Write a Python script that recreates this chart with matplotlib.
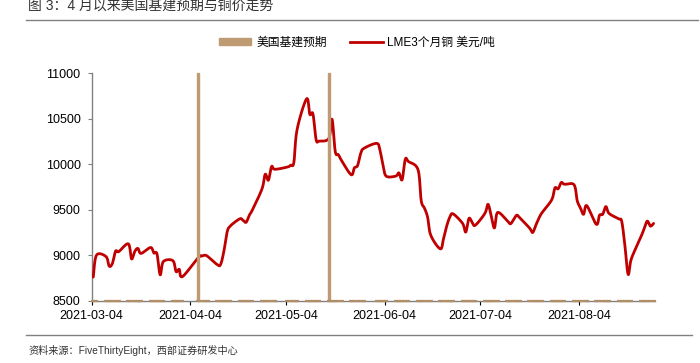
import matplotlib
matplotlib.use('Agg')
import matplotlib.pyplot as plt
import matplotlib.dates as mdates
from matplotlib.patches import Patch
from matplotlib.lines import Line2D
import numpy as np
import pandas as pd

plt.rcParams['font.family'] = ['Liberation Sans', 'Noto Sans CJK SC', 'DejaVu Sans']

# ---------------- data ----------------
copper_dates = [
    '2021-03-04', '2021-03-05', '2021-03-08', '2021-03-09', '2021-03-10', '2021-03-11', '2021-03-12',
    '2021-03-15', '2021-03-16', '2021-03-17', '2021-03-18', '2021-03-19', '2021-03-22', '2021-03-23',
    '2021-03-24', '2021-03-25', '2021-03-26', '2021-03-29', '2021-03-30', '2021-03-31', '2021-04-01',
    '2021-04-06', '2021-04-07', '2021-04-08', '2021-04-09', '2021-04-12', '2021-04-13', '2021-04-14',
    '2021-04-15', '2021-04-16', '2021-04-19', '2021-04-20', '2021-04-21', '2021-04-22', '2021-04-23',
    '2021-04-26', '2021-04-27', '2021-04-28', '2021-04-29', '2021-04-30', '2021-05-04', '2021-05-05',
    '2021-05-06', '2021-05-07', '2021-05-10', '2021-05-11', '2021-05-12', '2021-05-13', '2021-05-14',
    '2021-05-17', '2021-05-18', '2021-05-19', '2021-05-20', '2021-05-21', '2021-05-24', '2021-05-25',
    '2021-05-26', '2021-05-27', '2021-05-28', '2021-06-01', '2021-06-02', '2021-06-03', '2021-06-04',
    '2021-06-07', '2021-06-08', '2021-06-09', '2021-06-10', '2021-06-11', '2021-06-14', '2021-06-15',
    '2021-06-16', '2021-06-17', '2021-06-18', '2021-06-21', '2021-06-22', '2021-06-23', '2021-06-24',
    '2021-06-25', '2021-06-28', '2021-06-29', '2021-06-30', '2021-07-01', '2021-07-02', '2021-07-05',
    '2021-07-06', '2021-07-07', '2021-07-08', '2021-07-09', '2021-07-12', '2021-07-13', '2021-07-14',
    '2021-07-15', '2021-07-16', '2021-07-19', '2021-07-20', '2021-07-21', '2021-07-22', '2021-07-23',
    '2021-07-26', '2021-07-27', '2021-07-28', '2021-07-29', '2021-07-30', '2021-08-02', '2021-08-03',
    '2021-08-04', '2021-08-05', '2021-08-06', '2021-08-09', '2021-08-10', '2021-08-11', '2021-08-12',
    '2021-08-13', '2021-08-16', '2021-08-17', '2021-08-18', '2021-08-19', '2021-08-20', '2021-08-23',
    '2021-08-24', '2021-08-25', '2021-08-26', '2021-08-27',
]
copper_values = [
    8760, 9000, 8985, 8880, 8910, 9045, 9040,
    9125, 8960, 9040, 9075, 9020, 9085, 9025,
    9015, 8785, 8930, 8940, 8820, 8845, 8765,
    8975, 8990, 9000, 8985, 8895, 8900, 9040,
    9250, 9320, 9400, 9385, 9362, 9440, 9500,
    9730, 9890, 9825, 9975, 9945, 9970, 9990,
    10020, 10380, 10720, 10550, 10553, 10270, 10255,
    10285, 10495, 10140, 10105, 10040, 9885, 9960,
    9985, 10120, 10175, 10230, 10160, 9990, 9870,
    9870, 9905, 9830, 10055, 10030, 9940, 9600,
    9520, 9420, 9220, 9070, 9180, 9320, 9420,
    9455, 9350, 9255, 9405, 9360, 9330, 9460,
    9560, 9430, 9300, 9470, 9380, 9345, 9390,
    9440, 9410, 9300, 9250, 9330, 9410, 9470,
    9610, 9740, 9730, 9800, 9780, 9775, 9600,
    9520, 9450, 9545, 9340, 9440, 9450, 9535,
    9460, 9400, 9370, 9100, 8790, 8960, 9200,
    9290, 9375, 9320, 9350,
]
infra_event_dates = ['2021-04-06', '2021-05-17']
infra_values = [1 if d in infra_event_dates else 0 for d in copper_dates]

x_ticks = ['2021-03-04', '2021-04-04', '2021-05-04', '2021-06-04', '2021-07-04', '2021-08-04']
y_ticks = [8500, 9000, 9500, 10000, 10500, 11000]

label_infra = '美国基建预期'
label_copper = 'LME3个月铜 美元/吨'
title = '图 3：4 月以来美国基建预期与铜价走势'
source = '资料来源：FiveThirtyEight，西部证券研发中心'

# ---------------- helpers ----------------
def smooth_line(xn, yn, n=12):
    """Catmull-Rom rendering of a line (like a spreadsheet 'smoothed line')."""
    xn = np.asarray(xn, float)
    yn = np.asarray(yn, float)
    P = np.column_stack([xn, yn])
    P = np.vstack([P[0], P, P[-1]])
    out = []
    t = np.linspace(0, 1, n, endpoint=False)[:, None]
    for i in range(1, len(P) - 2):
        p0, p1, p2, p3 = P[i - 1], P[i], P[i + 1], P[i + 2]
        c = 0.5 * (2 * p1 + (-p0 + p2) * t + (2 * p0 - 5 * p1 + 4 * p2 - p3) * t ** 2
                   + (-p0 + 3 * p1 - 3 * p2 + p3) * t ** 3)
        out.append(c)
    out.append(P[-2][None, :])
    out = np.vstack(out)
    return out[:, 0], out[:, 1]

# ---------------- plot ----------------
RED = '#C00000'
TAN = '#BF9B74'
GREY = '#808080'

fig = plt.figure(figsize=(7, 3.63), dpi=100)
ax = fig.add_axes([0.131, 0.1716, 0.805, 0.6264])

x = pd.to_datetime(copper_dates) + pd.Timedelta(hours=12)
xnum = mdates.date2num(x)
sx, sy = smooth_line(xnum, copper_values)
ax.plot(sx, sy, color=RED, lw=2.0, solid_joinstyle='round', solid_capstyle='round', zorder=3)

ax.set_ylim(8500, 11000)
ax.set_yticks(y_ticks)
ax.xaxis_date()
ax.set_xlim(pd.Timestamp('2021-03-04'), pd.Timestamp('2021-08-28'))
ax.set_xticks(mdates.date2num(pd.to_datetime(x_ticks)))
ax.xaxis.set_major_formatter(mdates.DateFormatter('%Y-%m-%d'))

for s in ['top', 'right']:
    ax.spines[s].set_visible(False)
for s in ['left', 'bottom']:
    ax.spines[s].set_color(GREY)
    ax.spines[s].set_linewidth(1.0)
ax.tick_params(axis='y', direction='out', length=3, color=GREY, labelsize=9, pad=5, labelcolor='#000000')
ax.tick_params(axis='x', direction='out', length=3, color='#000000', labelsize=9, pad=3.5, labelcolor='#000000')

ax2 = ax.twinx()
ax2.bar(xnum, infra_values, width=0.55, color=TAN, edgecolor=TAN, lw=1.0, clip_on=False, zorder=2)
# bar bases (value-0 bars show only as short marks on the baseline)
ax2.plot(xnum, [0] * len(xnum), ls='none', marker='_', ms=2.6, mew=1.6, color='#B08E68',
         clip_on=False, zorder=2)
ax2.set_ylim(0, 1)
ax2.set_yticks([])
for s in ax2.spines.values():
    s.set_visible(False)

handles = [Patch(facecolor=TAN, edgecolor=TAN), Line2D([0], [0], color=RED, lw=2.0)]
fig.legend(handles, [label_infra, label_copper], loc='center', bbox_to_anchor=(357 / 700, 1 - 43 / 363),
           ncol=2, frameon=False, fontsize=8.5, handlelength=2.75, handleheight=0.55,
           handletextpad=0.4, columnspacing=2.0)

fig.text(28 / 700, 1 - 6 / 363, title, fontsize=10, color='#333333', va='center', ha='left')
fig.add_artist(Line2D([26 / 700, 698 / 700], [1 - 19.5 / 363] * 2, color=GREY, lw=1.0))
fig.add_artist(Line2D([26 / 700, 692 / 700], [1 - 335 / 363] * 2, color=GREY, lw=1.0))
fig.text(28 / 700, 1 - 350 / 363, source, fontsize=7.3, color='#333333', va='center', ha='left')

fig.savefig('out.png', dpi=100)
